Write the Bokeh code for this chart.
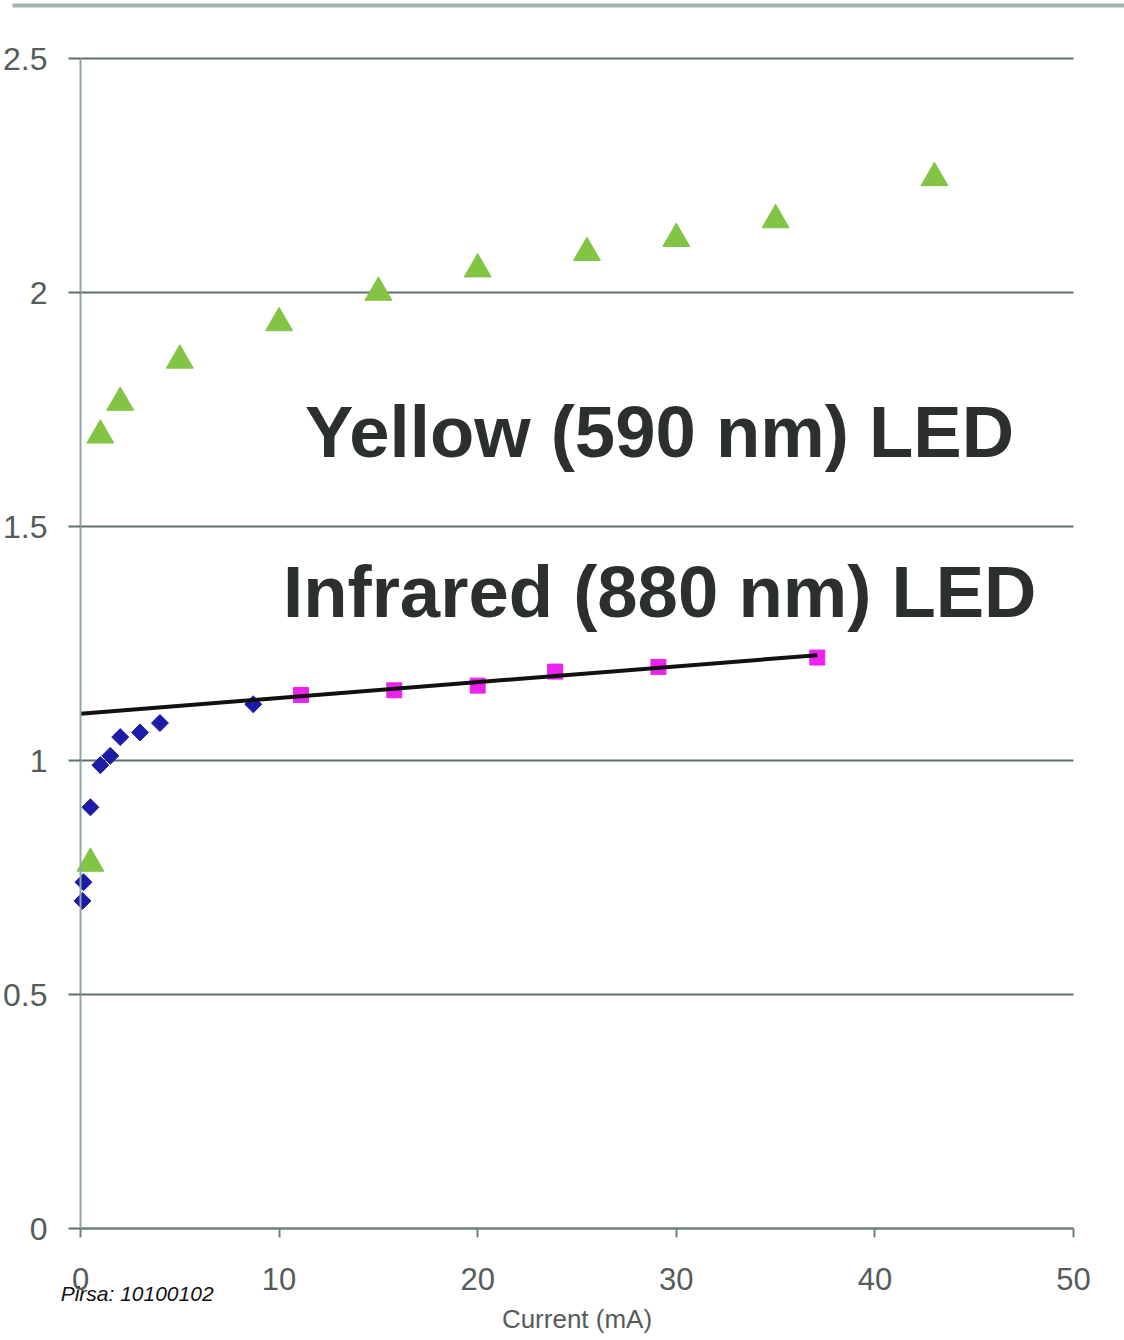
from bokeh.plotting import figure
from bokeh.models import (Range1d, FixedTicker, PrintfTickFormatter, Label, BoxAnnotation, Grid)
from bokeh.embed import file_html
from bokeh.resources import INLINE

# ---- data ----
yellow_current = [0.5, 1.0, 2.0, 5.0, 10.0, 15.0, 20.0, 25.5, 30.0, 35.0, 43.0]
yellow_voltage = [0.78, 1.695, 1.765, 1.855, 1.935, 2.0, 2.05, 2.085, 2.115, 2.155, 2.245]

ir_low_current = [0.1, 0.15, 0.5, 1.0, 1.5, 2.0, 3.0, 4.0, 8.7]
ir_low_voltage = [0.70, 0.74, 0.90, 0.99, 1.01, 1.05, 1.06, 1.08, 1.12]

ir_high_current = [11.1, 15.8, 20.0, 23.9, 29.1, 37.1]
ir_high_voltage = [1.14, 1.15, 1.16, 1.19, 1.20, 1.22]

fit_current = [0.0, 37.1]
fit_voltage = [1.10, 1.225]

x_ticks = [0, 10, 20, 30, 40, 50]
y_ticks = [0, 0.5, 1.0, 1.5, 2.0, 2.5]

yellow_label = "Yellow (590 nm) LED"
ir_label = "Infrared (880 nm) LED"
x_title = "Current (mA)"
footer = "Pirsa: 10100102"

FONT = "Liberation Sans"
GRID = "#5f6f6b"
AXIS = "#8ea7a1"
TICKTXT = "#545c5a"

W, H = 1124, 1340
# plotting area: x 0..50 spans px 80..1073, y 0..2.5 spans px 1228..58
px_x = 993 / 50.0
px_y = 1170 / 2.5
x_range = Range1d(-80 / px_x, 50 + 51 / px_x)
y_range = Range1d(-(H - 1228) / px_y, 2.5 + 58 / px_y)

p = figure(width=W, height=H, output_backend="svg", toolbar_location=None,
           x_range=x_range, y_range=y_range,
           min_border_left=0, min_border_right=0, min_border_top=0, min_border_bottom=0)
p.outline_line_color = None
p.background_fill_color = "white"
p.border_fill_color = "white"

# grid
p.xgrid.grid_line_color = None
p.ygrid.grid_line_color = GRID
p.ygrid.grid_line_width = 2
p.ygrid.ticker = FixedTicker(ticks=y_ticks)
if "cross_bounds" in Grid.properties():
    p.ygrid.cross_bounds = (0, 50)

# y axis
ya = p.yaxis[0]
ya.fixed_location = 0
ya.bounds = (0, 2.5)
ya.ticker = FixedTicker(ticks=y_ticks)
ya.formatter = PrintfTickFormatter(format="%g")
ya.axis_line_color = AXIS
ya.axis_line_width = 2
ya.major_tick_line_color = GRID
ya.major_tick_line_width = 2
ya.major_tick_out = 12
ya.major_tick_in = 0
ya.minor_tick_line_color = None
ya.major_label_standoff = 21
ya.major_label_text_font = FONT
ya.major_label_text_font_size = "32px"
ya.major_label_text_color = TICKTXT

# x axis
xa = p.xaxis[0]
xa.fixed_location = 0
xa.bounds = (0, 50)
xa.ticker = FixedTicker(ticks=x_ticks)
xa.axis_line_color = "#6f8580"
xa.axis_line_width = 2
xa.major_tick_line_color = "#6f8580"
xa.major_tick_line_width = 2
xa.major_tick_out = 9
xa.major_tick_in = 0
xa.minor_tick_line_color = None
xa.major_label_standoff = 30
xa.major_label_text_font = FONT
xa.major_label_text_font_size = "31px"
xa.major_label_text_color = TICKTXT
xa.axis_label = x_title
xa.axis_label_standoff = 11
xa.axis_label_text_font = FONT
xa.axis_label_text_font_style = "normal"
xa.axis_label_text_font_size = "26px"
xa.axis_label_text_color = TICKTXT

# markers
p.scatter(yellow_current, yellow_voltage, marker="triangle", size=27,
          fill_color="#82c444", line_color="#82c444")
p.scatter(ir_low_current, ir_low_voltage, marker="square", size=12, angle=0.785398,
          fill_color="#1c1ca6", line_color="#1c1ca6")
p.scatter(ir_high_current, ir_high_voltage, marker="square", size=15,
          fill_color="#ee22ee", line_color="#ee22ee")
p.line(fit_current, fit_voltage, line_color="#111111", line_width=4)

# annotations
p.add_layout(Label(x=11.3, y=1.703, text=yellow_label, text_font=FONT,
                   text_font_style="bold", text_font_size="72.5px",
                   text_color="#2b2f2e", text_baseline="alphabetic"))
p.add_layout(Label(x=10.2, y=1.362, text=ir_label, text_font=FONT,
                   text_font_style="bold", text_font_size="72.5px",
                   text_color="#2b2f2e", text_baseline="alphabetic"))
p.add_layout(Label(x=-1.0, y=-0.138, text=footer,
                   text_font=FONT, text_font_style="italic", text_font_size="21px",
                   text_color="#111111", text_baseline="alphabetic"))

# top border line of the slide
p.add_layout(BoxAnnotation(left=-68 / px_x, top=2.5 + 55 / px_y, bottom=2.5 + 51 / px_y,
                           fill_color="#a3b3ae", fill_alpha=1.0, line_color=None))

open("out.html", "w").write(file_html(p, INLINE))
